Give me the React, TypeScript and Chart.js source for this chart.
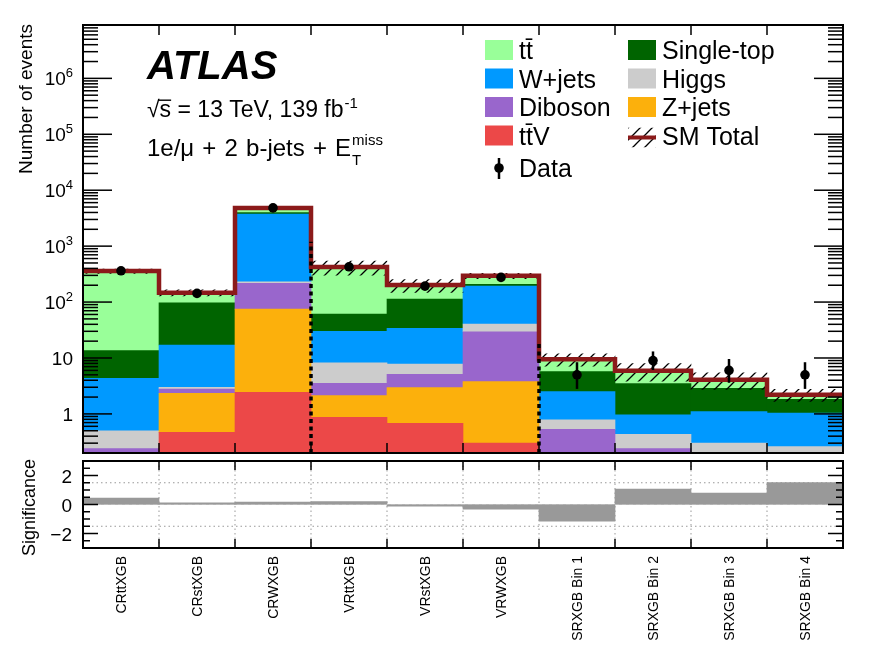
import { useEffect, useRef } from "react";
import Chart from "chart.js/auto";

const FONT = '"Liberation Sans", Arial, Helvetica, sans-serif';

const regions = [
  "CRttXGB", "CRstXGB", "CRWXGB", "VRttXGB", "VRstXGB", "VRWXGB",
  "SRXGB Bin 1", "SRXGB Bin 2", "SRXGB Bin 3", "SRXGB Bin 4",
];

// background yields, stacked bottom -> top
const ttV = [0.01, 0.47, 2.44, 0.87, 0.68, 0.30, 0.02, 0.01, 0.01, 0.01];
const zJets = [0.02, 1.87, 72.5, 1.25, 2.27, 3.47, 0.05, 0.02, 0.02, 0.02];
const diboson = [0.21, 0.45, 141, 1.41, 2.15, 25.7, 0.46, 0.21, 0.05, 0.04];
const higgs = [0.26, 0.20, 15, 4.7, 2.7, 11, 0.25, 0.19, 0.22, 0.19];
const wJets = [3.84, 14.1, 3496, 21.8, 26.2, 152.5, 1.72, 0.53, 0.80, 0.77];
const singleTop = [9.2, 80, 273, 31, 79, 14, 3.2, 2.54, 1.78, 0.80];
const ttbar = [344, 50, 830, 361, 88, 88, 3.8, 2.4, 1.2, 0.38];

// relative uncertainty on the SM total (hatched band)
const smRelUnc = [0.09, 0.12, 0.06, 0.28, 0.26, 0.11, 0.25, 0.35, 0.33, 0.24];

// observed data
const dataCounts = [362, 143, 4830, 427, 193, 276, 5, 9, 6, 5];
const dataErrDown = [19, 12, 70, 21, 14, 17, 2.2, 2.9, 2.4, 2.2];
const dataErrUp = [20, 13, 71, 22, 15, 18, 3.4, 4.1, 3.6, 3.4];

// lower panel
const significance = [0.45, 0.12, 0.17, 0.2, -0.12, -0.33, -1.15, 1.06, 0.79, 1.52];

// axis settings
const yMin = 0.2;
const yMax = 9e6;
const yLabelExps = [0, 1, 2, 3, 4, 5, 6];
const sigMin = -3;
const sigMax = 3;
const sigLabels = [2, 0, -2];
const sigGuides = [1.5, -1.5];

// CR | VR | SR separators (after bin index) and how high they reach
const separatorAfterBin = [2, 5];
const separatorTop = [1200, 18];

const backgrounds = [
  { label: "tt\u0304V", values: ttV, color: "#ec4848" },
  { label: "Z+jets", values: zJets, color: "#fcb00c" },
  { label: "Diboson", values: diboson, color: "#9966cc" },
  { label: "Higgs", values: higgs, color: "#cccccc" },
  { label: "W+jets", values: wJets, color: "#0099ff" },
  { label: "Single-top", values: singleTop, color: "#006400" },
  { label: "tt\u0304", values: ttbar, color: "#99ff99" },
];

const SM_COLOR = "#8b1a1a";
const SIG_TOP = 455; // page offset of the lower canvas

function makeHatch(): CanvasPattern | string {
  const c = document.createElement("canvas");
  c.width = 12;
  c.height = 12;
  const g = c.getContext("2d");
  if (!g) return "rgba(0,0,0,0.3)";
  g.strokeStyle = "#000";
  g.lineWidth = 1.3;
  g.beginPath();
  g.moveTo(0, 12); g.lineTo(12, 0);
  g.moveTo(-3, 3); g.lineTo(3, -3);
  g.moveTo(9, 15); g.lineTo(15, 9);
  g.stroke();
  return g.createPattern(c, "repeat") || "rgba(0,0,0,0.3)";
}

function binGeom(x: any, i: number) {
  const half = (x.getPixelForValue(1) - x.getPixelForValue(0)) / 2;
  const c = x.getPixelForValue(i);
  return { left: c - half, right: c + half, center: c };
}

function line(ctx: CanvasRenderingContext2D, x1: number, y1: number, x2: number, y2: number) {
  ctx.beginPath();
  ctx.moveTo(x1, y1);
  ctx.lineTo(x2, y2);
  ctx.stroke();
}

function App() {
  const mainRef = useRef<HTMLCanvasElement | null>(null);
  const sigRef = useRef<HTMLCanvasElement | null>(null);

  useEffect(() => {
    const mainCtx = mainRef.current?.getContext("2d");
    const sigCtx = sigRef.current?.getContext("2d");
    if (!mainCtx || !sigCtx) return;

    const hatch = makeHatch();

    // cumulative stack edges
    let running = regions.map(() => 0);
    const stackDatasets: any[] = backgrounds.map((b) => {
      const lo = running;
      const hi = lo.map((v, i) => v + b.values[i]);
      running = hi;
      return {
        type: "bar",
        label: b.label,
        data: regions.map((_, i) => [lo[i] > 0 ? lo[i] : 1e-4, hi[i]]),
        backgroundColor: b.color,
        borderWidth: 0,
        grouped: false,
        barPercentage: 1,
        categoryPercentage: 1,
        order: 10,
      };
    });
    const smTotal = running;
    const HATCH_INDEX = stackDatasets.length;

    const mainDecor = {
      id: "mainDecor",
      afterDatasetDraw(chart: any, args: any) {
        if (args.index !== HATCH_INDEX) return;
        const { ctx } = chart;
        const x = chart.scales.x;
        const y = chart.scales.y;
        ctx.save();
        ctx.strokeStyle = SM_COLOR;
        ctx.lineWidth = 4.5;
        ctx.lineJoin = "miter";
        ctx.beginPath();
        smTotal.forEach((t, i) => {
          const g = binGeom(x, i);
          const py = y.getPixelForValue(t);
          if (i === 0) ctx.moveTo(g.left, py);
          else ctx.lineTo(g.left, py);
          ctx.lineTo(g.right, py);
        });
        ctx.stroke();
        ctx.restore();
      },
      afterDatasetsDraw(chart: any) {
        const { ctx, chartArea: area } = chart;
        const x = chart.scales.x;
        const y = chart.scales.y;
        ctx.save();
        // data error bars
        ctx.strokeStyle = "#000";
        ctx.lineWidth = 2.5;
        dataCounts.forEach((d, i) => {
          const px = x.getPixelForValue(i);
          line(ctx, px, y.getPixelForValue(Math.max(d - dataErrDown[i], yMin)), px, y.getPixelForValue(d + dataErrUp[i]));
        });
        // region separators
        ctx.lineWidth = 3.5;
        ctx.setLineDash([4, 3.5]);
        separatorAfterBin.forEach((b, k) => {
          const px = binGeom(x, b).right;
          line(ctx, px, area.bottom, px, y.getPixelForValue(separatorTop[k]));
        });
        ctx.restore();
      },
      afterDraw(chart: any) {
        const { ctx, chartArea: area } = chart;
        const x = chart.scales.x;
        const y = chart.scales.y;
        ctx.save();
        ctx.strokeStyle = "#000";
        ctx.fillStyle = "#000";
        ctx.lineWidth = 1.5;
        // log ticks left/right
        for (let k = -1; k <= 6; k++) {
          for (let m = 1; m <= 9; m++) {
            const v = m * Math.pow(10, k);
            if (v < yMin || v > yMax) continue;
            const py = y.getPixelForValue(v);
            const len = m === 1 ? 29 : 15;
            line(ctx, area.left, py, area.left + len, py);
            line(ctx, area.right, py, area.right - len, py);
          }
        }
        // bin boundary ticks top/bottom
        for (let i = 0; i < regions.length - 1; i++) {
          const px = binGeom(x, i).right;
          line(ctx, px, area.bottom, px, area.bottom - 10);
          line(ctx, px, area.top, px, area.top + 10);
        }
        ctx.lineWidth = 2;
        ctx.strokeRect(area.left, area.top, area.right - area.left, area.bottom - area.top);

        // y tick labels
        yLabelExps.forEach((e) => {
          const py = y.getPixelForValue(Math.pow(10, e));
          const right = 73;
          ctx.textAlign = "right";
          ctx.textBaseline = "alphabetic";
          if (e <= 1) {
            ctx.font = `19px ${FONT}`;
            ctx.fillText(e === 0 ? "1" : "10", right, py + 7);
          } else {
            ctx.font = `13px ${FONT}`;
            const sw = ctx.measureText(String(e)).width;
            ctx.fillText(String(e), right, py - 1);
            ctx.font = `19px ${FONT}`;
            ctx.fillText("10", right - sw, py + 7);
          }
        });

        // y title
        ctx.save();
        ctx.translate(31.5, 24);
        ctx.rotate(-Math.PI / 2);
        ctx.font = `19px ${FONT}`;
        ctx.textAlign = "right";
        ctx.textBaseline = "alphabetic";
        ctx.fillText("Number of events", 0, 0);
        ctx.restore();

        // ATLAS label block
        ctx.textAlign = "left";
        ctx.textBaseline = "alphabetic";
        ctx.font = `italic bold 40px ${FONT}`;
        ctx.fillText("ATLAS", 147, 79);

        ctx.font = `23px ${FONT}`;
        const l2 = "\u221As = 13 TeV, 139 fb";
        ctx.fillText(l2, 147, 117);
        const wRad = ctx.measureText("\u221A").width;
        const wRadS = ctx.measureText("\u221As").width;
        ctx.fillRect(147 + wRad - 1.5, 117 - 17.5, wRadS - wRad + 1.5, 1.4);
        const w2 = ctx.measureText(l2).width;
        ctx.font = `15px ${FONT}`;
        ctx.fillText("-1", 147 + w2 + 1, 117 - 9);

        ctx.font = `24px ${FONT}`;
        (ctx as any).wordSpacing = "1.5px";
        const l3 = "1e/\u03BC + 2 b-jets + E";
        ctx.fillText(l3, 147, 156);
        const w3 = ctx.measureText(l3).width;
        (ctx as any).wordSpacing = "0px";
        ctx.font = `15px ${FONT}`;
        ctx.fillText("miss", 147 + w3 + 1, 156 - 11);
        ctx.fillText("T", 147 + w3 + 1, 156 + 9);

        // legend
        const rowY = [50, 78.5, 107, 135.5, 168];
        const col1 = { box: 485, text: 519 };
        const col2 = { box: 628, text: 662 };
        const byLabel = (l: string) => backgrounds.find((b) => b.label === l)!;
        const entries = [
          { item: byLabel("tt\u0304"), col: col1, row: 0 },
          { item: byLabel("W+jets"), col: col1, row: 1 },
          { item: byLabel("Diboson"), col: col1, row: 2 },
          { item: byLabel("tt\u0304V"), col: col1, row: 3 },
          { item: byLabel("Single-top"), col: col2, row: 0 },
          { item: byLabel("Higgs"), col: col2, row: 1 },
          { item: byLabel("Z+jets"), col: col2, row: 2 },
        ];
        ctx.font = `25px ${FONT}`;
        entries.forEach((en) => {
          const cy = rowY[en.row];
          ctx.fillStyle = en.item.color;
          ctx.fillRect(en.col.box, cy - 10, 28, 20);
          ctx.fillStyle = "#000";
          ctx.fillText(en.item.label, en.col.text, cy + 9);
        });
        // SM total entry
        {
          const cy = rowY[3];
          ctx.save();
          ctx.beginPath();
          ctx.rect(col2.box, cy - 8, 28, 20);
          ctx.clip();
          ctx.fillStyle = hatch as any;
          ctx.fillRect(col2.box, cy - 8, 28, 20);
          ctx.restore();
          ctx.strokeStyle = SM_COLOR;
          ctx.lineWidth = 4;
          line(ctx, col2.box, cy + 2, col2.box + 28, cy + 2);
          ctx.fillStyle = "#000";
          ctx.fillText("SM Total", col2.text, cy + 9);
        }
        // data entry
        {
          const cy = rowY[4];
          const cx = col1.box + 14;
          ctx.strokeStyle = "#000";
          ctx.lineWidth = 2.5;
          line(ctx, cx, cy - 10, cx, cy + 11);
          ctx.beginPath();
          ctx.arc(cx, cy, 4.8, 0, Math.PI * 2);
          ctx.fill();
          ctx.fillText("Data", col1.text, cy + 9);
        }
        ctx.restore();
      },
    };

    const mainChart = new Chart(mainCtx, {
      type: "bar",
      data: {
        labels: regions,
        datasets: [
          ...stackDatasets,
          {
            type: "bar",
            label: "SM Total",
            data: smTotal.map((t, i) => [t * (1 - smRelUnc[i]), t * (1 + smRelUnc[i])]),
            backgroundColor: hatch,
            borderWidth: 0,
            grouped: false,
            barPercentage: 1,
            categoryPercentage: 1,
            order: 5,
          },
          {
            type: "line",
            label: "Data",
            data: dataCounts,
            showLine: false,
            pointRadius: 4.8,
            pointBackgroundColor: "#000",
            pointBorderWidth: 0,
            order: 0,
          },
        ] as any,
      },
      options: {
        responsive: false,
        animation: false,
        events: [],
        layout: { padding: { left: 83, right: 29, top: 25, bottom: 5 } },
        plugins: { legend: { display: false }, tooltip: { enabled: false } },
        scales: {
          x: { type: "category", display: false, offset: true, stacked: false },
          y: { type: "logarithmic", display: false, min: yMin, max: yMax, stacked: false },
        },
      } as any,
      plugins: [mainDecor],
    });

    const sigDecor = {
      id: "sigDecor",
      beforeDatasetsDraw(chart: any) {
        const { ctx, chartArea: area } = chart;
        const x = chart.scales.x;
        const y = chart.scales.y;
        ctx.save();
        ctx.strokeStyle = "#999";
        ctx.lineWidth = 1;
        ctx.setLineDash([1.5, 3]);
        for (let i = 0; i < regions.length - 1; i++) {
          const px = binGeom(x, i).right;
          line(ctx, px, area.top, px, area.bottom);
        }
        sigGuides.forEach((g) => {
          const py = y.getPixelForValue(g);
          line(ctx, area.left, py, area.right, py);
        });
        ctx.restore();
      },
      afterDatasetsDraw(chart: any) {
        const { ctx, chartArea: area } = chart;
        const y = chart.scales.y;
        ctx.save();
        ctx.strokeStyle = "#bbbbbb";
        ctx.lineWidth = 1;
        ctx.setLineDash([4, 3]);
        const py = y.getPixelForValue(0);
        line(ctx, area.left, py, area.right, py);
        ctx.restore();
      },
      afterDraw(chart: any) {
        const { ctx, chartArea: area } = chart;
        const x = chart.scales.x;
        const y = chart.scales.y;
        ctx.save();
        ctx.strokeStyle = "#000";
        ctx.fillStyle = "#000";
        ctx.lineWidth = 1.5;
        for (let v = sigMin + 0.5; v < sigMax; v += 0.5) {
          const py = y.getPixelForValue(v);
          const len = Math.abs(v % 2) < 1e-9 ? 15 : 7;
          line(ctx, area.left, py, area.left + len, py);
          line(ctx, area.right, py, area.right - len, py);
        }
        for (let i = 0; i < regions.length - 1; i++) {
          const px = binGeom(x, i).right;
          line(ctx, px, area.bottom, px, area.bottom - 9);
          line(ctx, px, area.top, px, area.top + 9);
        }
        ctx.lineWidth = 2;
        ctx.strokeRect(area.left, area.top, area.right - area.left, area.bottom - area.top);

        ctx.font = `19px ${FONT}`;
        ctx.textAlign = "right";
        ctx.textBaseline = "alphabetic";
        sigLabels.forEach((v) => {
          const py = y.getPixelForValue(v);
          ctx.fillText(v < 0 ? `\u2212${Math.abs(v)}` : String(v), 72, py + 7);
        });

        ctx.save();
        ctx.translate(34.5, 459 - SIG_TOP);
        ctx.rotate(-Math.PI / 2);
        ctx.font = `18px ${FONT}`;
        ctx.textAlign = "right";
        ctx.textBaseline = "alphabetic";
        ctx.fillText("Significance", 0, 0);
        ctx.restore();

        ctx.font = `14px ${FONT}`;
        regions.forEach((r, i) => {
          ctx.save();
          ctx.translate(x.getPixelForValue(i) + 1, area.bottom + 8);
          ctx.rotate(-Math.PI / 2);
          ctx.textAlign = "right";
          ctx.textBaseline = "middle";
          ctx.fillText(r, 0, 0);
          ctx.restore();
        });
        ctx.restore();
      },
    };

    const sigChart = new Chart(sigCtx, {
      type: "bar",
      data: {
        labels: regions,
        datasets: [
          {
            label: "Significance",
            data: significance,
            backgroundColor: "#999999",
            borderWidth: 0,
            barPercentage: 1,
            categoryPercentage: 1,
          },
        ],
      },
      options: {
        responsive: false,
        animation: false,
        events: [],
        layout: { padding: { left: 83, right: 29, top: 6, bottom: 112 } },
        plugins: { legend: { display: false }, tooltip: { enabled: false } },
        scales: {
          x: { type: "category", display: false, offset: true },
          y: { type: "linear", display: false, min: sigMin, max: sigMax },
        },
      } as any,
      plugins: [sigDecor],
    });

    return () => {
      mainChart.destroy();
      sigChart.destroy();
    };
  }, []);

  return (
    <div style={{ position: "absolute", left: 0, top: 0, width: 872, height: 660, background: "#fff" }}>
      <canvas ref={mainRef} width={872} height={458} style={{ position: "absolute", left: 0, top: 0, width: 872, height: 458 }} />
      <canvas ref={sigRef} width={872} height={205} style={{ position: "absolute", left: 0, top: SIG_TOP, width: 872, height: 205 }} />
    </div>
  );
}

export default App;
